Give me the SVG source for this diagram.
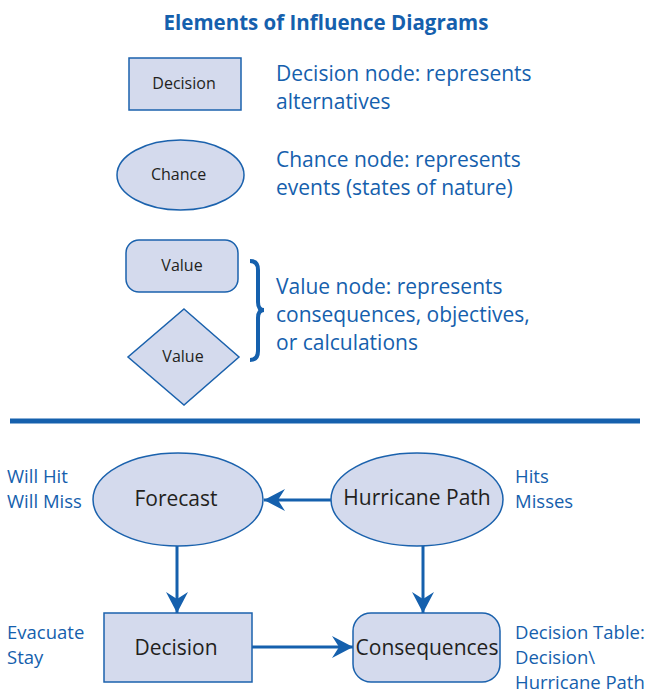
<svg xmlns="http://www.w3.org/2000/svg" width="648" height="693" viewBox="0 0 648 693">
<style>
.node{fill:#d4daed;stroke:#1b62ad;stroke-width:1.5}
.lbl{font-family:"Open Sans","Liberation Sans",sans-serif;fill:#231f20;text-anchor:middle;dominant-baseline:central}
.small{font-size:16px}
.big{font-size:21px}
.desc{font-family:"Open Sans","Liberation Sans",sans-serif;fill:#1560ad;font-size:21px}
.side{font-family:"Open Sans","Liberation Sans",sans-serif;fill:#1560ad;font-size:18.5px}
.conn{stroke:#1560ad;stroke-width:3;fill:none}
</style>
<defs>
<marker id="ah" markerUnits="userSpaceOnUse" markerWidth="24" markerHeight="24" viewBox="-22 -12 24 24" refX="0" refY="0" orient="auto">
<path d="M0,0 L-21,-11 L-14,0 L-21,11 Z" fill="#1560ad"/>
</marker>
</defs>
<text x="326" y="30" text-anchor="middle" font-family="'Open Sans','Liberation Sans',sans-serif" font-weight="bold" font-size="20.5" fill="#1560ad">Elements of Influence Diagrams</text>

<g id="legend-decision">
<rect class="node" x="129" y="58" width="112" height="52"/>
<text class="lbl small" x="184" y="83">Decision</text>
<text class="desc" x="276" y="81">Decision node: represents</text>
<text class="desc" x="276" y="109">alternatives</text>
</g>
<g id="legend-chance">
<ellipse class="node" cx="180.5" cy="175" rx="63.5" ry="35"/>
<text class="lbl small" x="178.5" y="174">Chance</text>
<text class="desc" x="276" y="167">Chance node: represents</text>
<text class="desc" x="276" y="195">events (states of nature)</text>
</g>
<g id="legend-value-rect">
<rect class="node" x="126" y="240" width="112" height="52" rx="13"/>
<text class="lbl small" x="182" y="265">Value</text>
</g>
<g id="legend-value-diamond">
<polygon class="node" points="184,309 239,357 184,405 128,357"/>
<text class="lbl small" x="183" y="356">Value</text>
</g>
<g id="legend-value-text">
<path d="M250,261 Q258,261 258,270 L258,302 Q258,310 264,310 Q258,310 258,318 L258,351 Q258,360 250,360" fill="none" stroke="#1560ad" stroke-width="4"/>
<text class="desc" x="276" y="294">Value node: represents</text>
<text class="desc" x="276" y="322">consequences, objectives,</text>
<text class="desc" x="276" y="350">or calculations</text>
</g>
<line x1="10" y1="421" x2="640" y2="421" stroke="#1560ad" stroke-width="5"/>

<g id="connectors">
<line class="conn" x1="331" y1="500" x2="264" y2="500" marker-end="url(#ah)"/>
<line class="conn" x1="177" y1="546" x2="177" y2="613" marker-end="url(#ah)"/>
<line class="conn" x1="423" y1="546" x2="423" y2="613" marker-end="url(#ah)"/>
<line class="conn" x1="252" y1="647" x2="353" y2="647" marker-end="url(#ah)"/>
</g>

<g id="forecast">
<ellipse class="node" cx="178" cy="499.5" rx="85" ry="46.5"/>
<text class="lbl big" x="176" y="498">Forecast</text>
<text class="side" x="7" y="483">Will Hit</text>
<text class="side" x="7" y="508">Will Miss</text>
</g>
<g id="hurricane-path">
<ellipse class="node" cx="417" cy="499.5" rx="86" ry="46.5"/>
<text class="lbl big" x="417" y="497">Hurricane Path</text>
<text class="side" x="515" y="483">Hits</text>
<text class="side" x="515" y="508">Misses</text>
</g>
<g id="decision">
<rect class="node" x="104" y="613" width="148" height="69"/>
<text class="lbl big" x="176" y="647">Decision</text>
<text class="side" x="7" y="639">Evacuate</text>
<text class="side" x="7" y="664">Stay</text>
</g>
<g id="consequences">
<rect class="node" x="353" y="613" width="147" height="69" rx="18"/>
<text class="lbl big" x="427" y="647">Consequences</text>
<text class="side" x="515" y="639">Decision Table:</text>
<text class="side" x="515" y="664">Decision\</text>
<text class="side" x="515" y="689">Hurricane Path</text>
</g>
</svg>
